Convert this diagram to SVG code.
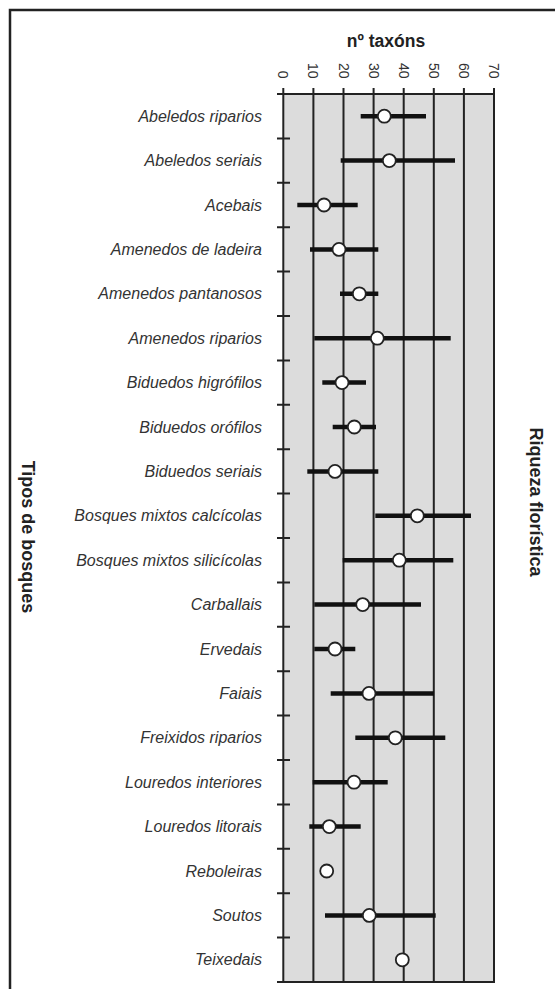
<svg xmlns="http://www.w3.org/2000/svg" width="555" height="989" viewBox="0 0 555 989">
<style>
.lbl{font-family:"Liberation Sans",Arial,sans-serif;font-size:16px;font-style:italic;fill:#333;text-anchor:end}
.num{font-family:"Liberation Sans",Arial,sans-serif;font-size:14px;fill:#333;text-anchor:end}
.ttl{font-family:"Liberation Sans",Arial,sans-serif;font-size:17.5px;font-weight:bold;fill:#222;text-anchor:middle}
.grid{stroke:#222;stroke-width:2;fill:none}
.bar{stroke:#111;stroke-width:4.5;stroke-linecap:butt}
.pt{fill:#fff;stroke:#222;stroke-width:1.8}
</style>
<rect width="555" height="989" fill="#fff"/>
<path d="M10,1000 V10 H560" fill="none" stroke="#222" stroke-width="2.5"/>
<g id="plot-area">
<rect x="283.3" y="94" width="210.7" height="888" fill="#dcdcdc"/>
<g class="grid">
<path d="M283.3,88V982M313.4,88V982M343.5,88V982M373.6,88V982M403.7,88V982M433.8,88V982M463.9,88V982M494,88V982"/>
<path d="M277,94H494M277,982H495"/>
<path d="M277,138.4H290M277,182.8H290M277,227.2H290M277,271.6H290M277,316H290M277,360.4H290M277,404.8H290M277,449.2H290M277,493.6H290M277,538H290M277,582.4H290M277,626.8H290M277,671.2H290M277,715.6H290M277,760H290M277,804.4H290M277,848.8H290M277,893.2H290M277,937.6H290"/>
</g>
</g>
<g id="axis-labels">
<text class="ttl" x="386" y="46.5">nº taxóns</text>
<text class="num" transform="translate(283.3,78.5) rotate(90)" dy="0.35em">0</text>
<text class="num" transform="translate(313.4,78.5) rotate(90)" dy="0.35em">10</text>
<text class="num" transform="translate(343.5,78.5) rotate(90)" dy="0.35em">20</text>
<text class="num" transform="translate(373.6,78.5) rotate(90)" dy="0.35em">30</text>
<text class="num" transform="translate(403.7,78.5) rotate(90)" dy="0.35em">40</text>
<text class="num" transform="translate(433.8,78.5) rotate(90)" dy="0.35em">50</text>
<text class="num" transform="translate(463.9,78.5) rotate(90)" dy="0.35em">60</text>
<text class="num" transform="translate(494,78.5) rotate(90)" dy="0.35em">70</text>
<text class="ttl" style="font-size:18px" transform="translate(28,537) rotate(90)" dy="0.35em">Tipos de bosques</text>
<text class="ttl" style="font-size:18px" transform="translate(536.5,502) rotate(90)" dy="0.35em">Riqueza florística</text>
</g>
<g id="connectors">
<line class="bar" x1="360.7" y1="116.2" x2="426" y2="116.2"/>
<line class="bar" x1="340.7" y1="160.6" x2="455" y2="160.6"/>
<line class="bar" x1="297.3" y1="205" x2="357.7" y2="205"/>
<line class="bar" x1="310" y1="249.4" x2="378.3" y2="249.4"/>
<line class="bar" x1="340" y1="293.8" x2="378.3" y2="293.8"/>
<line class="bar" x1="314.3" y1="338.2" x2="450.7" y2="338.2"/>
<line class="bar" x1="322.3" y1="382.6" x2="366" y2="382.6"/>
<line class="bar" x1="332.7" y1="427" x2="376" y2="427"/>
<line class="bar" x1="307.3" y1="471.4" x2="378.3" y2="471.4"/>
<line class="bar" x1="375.3" y1="515.8" x2="471" y2="515.8"/>
<line class="bar" x1="342.7" y1="560.2" x2="453.3" y2="560.2"/>
<line class="bar" x1="314.3" y1="604.6" x2="421" y2="604.6"/>
<line class="bar" x1="314.3" y1="649" x2="355.3" y2="649"/>
<line class="bar" x1="330.7" y1="693.4" x2="434" y2="693.4"/>
<line class="bar" x1="355.3" y1="737.8" x2="445.3" y2="737.8"/>
<line class="bar" x1="312.7" y1="782.2" x2="387.7" y2="782.2"/>
<line class="bar" x1="309.3" y1="826.6" x2="360.7" y2="826.6"/>
<line class="bar" x1="325" y1="915.4" x2="435.7" y2="915.4"/>
</g>
<g id="abeledos-riparios"><text class="lbl" x="262" y="121.7">Abeledos riparios</text><circle class="pt" cx="384.3" cy="116.2" r="6.5"/></g>
<g id="abeledos-seriais"><text class="lbl" x="262" y="166.1">Abeledos seriais</text><circle class="pt" cx="389.3" cy="160.6" r="6.5"/></g>
<g id="acebais"><text class="lbl" x="262" y="210.5">Acebais</text><circle class="pt" cx="324" cy="205" r="6.5"/></g>
<g id="amenedos-de-ladeira"><text class="lbl" x="262" y="254.9">Amenedos de ladeira</text><circle class="pt" cx="339" cy="249.4" r="6.5"/></g>
<g id="amenedos-pantanosos"><text class="lbl" x="262" y="299.3">Amenedos pantanosos</text><circle class="pt" cx="359.3" cy="293.8" r="6.5"/></g>
<g id="amenedos-riparios"><text class="lbl" x="262" y="343.7">Amenedos riparios</text><circle class="pt" cx="377.3" cy="338.2" r="6.5"/></g>
<g id="biduedos-higrofilos"><text class="lbl" x="262" y="388.1">Biduedos higrófilos</text><circle class="pt" cx="342" cy="382.6" r="6.5"/></g>
<g id="biduedos-orofilos"><text class="lbl" x="262" y="432.5">Biduedos orófilos</text><circle class="pt" cx="354.3" cy="427" r="6.5"/></g>
<g id="biduedos-seriais"><text class="lbl" x="262" y="476.9">Biduedos seriais</text><circle class="pt" cx="335" cy="471.4" r="6.5"/></g>
<g id="bosques-mixtos-calcicolas"><text class="lbl" x="262" y="521.3">Bosques mixtos calcícolas</text><circle class="pt" cx="417.3" cy="515.8" r="6.5"/></g>
<g id="bosques-mixtos-silicicolas"><text class="lbl" x="262" y="565.7">Bosques mixtos silicícolas</text><circle class="pt" cx="399.3" cy="560.2" r="6.5"/></g>
<g id="carballais"><text class="lbl" x="262" y="610.1">Carballais</text><circle class="pt" cx="362.7" cy="604.6" r="6.5"/></g>
<g id="ervedais"><text class="lbl" x="262" y="654.5">Ervedais</text><circle class="pt" cx="335" cy="649" r="6.5"/></g>
<g id="faiais"><text class="lbl" x="262" y="698.9">Faiais</text><circle class="pt" cx="369" cy="693.4" r="6.5"/></g>
<g id="freixidos-riparios"><text class="lbl" x="262" y="743.3">Freixidos riparios</text><circle class="pt" cx="395.3" cy="737.8" r="6.5"/></g>
<g id="louredos-interiores"><text class="lbl" x="262" y="787.7">Louredos interiores</text><circle class="pt" cx="354" cy="782.2" r="6.5"/></g>
<g id="louredos-litorais"><text class="lbl" x="262" y="832.1">Louredos litorais</text><circle class="pt" cx="329.3" cy="826.6" r="6.5"/></g>
<g id="reboleiras"><text class="lbl" x="262" y="876.5">Reboleiras</text><circle class="pt" cx="326.7" cy="871" r="6.5"/></g>
<g id="soutos"><text class="lbl" x="262" y="920.9">Soutos</text><circle class="pt" cx="369.3" cy="915.4" r="6.5"/></g>
<g id="teixedais"><text class="lbl" x="262" y="965.3">Teixedais</text><circle class="pt" cx="402.3" cy="959.8" r="6.5"/></g>
</svg>
